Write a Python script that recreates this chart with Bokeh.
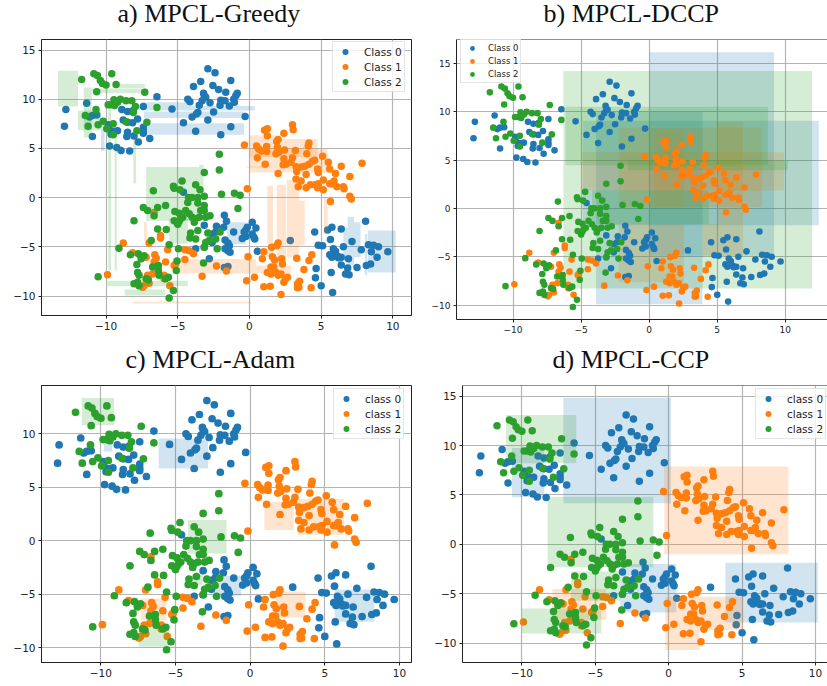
from bokeh.plotting import figure
from bokeh.layouts import column, row
from bokeh.models import FixedTicker, Span, Title
from bokeh.embed import file_html
from bokeh.resources import INLINE

colors = ["#1f77b4", "#ff7f0e", "#2ca02c"]

class0_points = [
(-2.9,13.1),(-2.4,12.7),(-3.4,11.8),(-1.3,11.9),(-3.9,11.3),(-2.55,11.4),(-2.15,11.0),(-1.65,10.7),(-0.85,10.6),(-0.95,10.35),
(-3.2,10.6),(-3.15,10.35),(-3.05,10.2),(-6.45,10.25),(-4.3,10.0),(-4.15,9.75),(-3.3,9.85),(-2.75,9.65),(-3.5,9.4),(-2.0,9.9),
(-1.7,9.85),(-2.05,9.4),(-1.05,9.7),(-1.4,9.3),(-1.1,10.0),(-5.4,9.0),(-2.5,8.7),(-3.6,8.65),(-3.7,8.5),(-4.0,8.2),
(-0.3,8.25),(-2.9,7.9),(-4.6,7.6),(-1.3,7.2),(-3.75,6.75),(-2.0,6.4),
(-12.8,8.95),(-12.9,7.25),(-11.35,9.6),(-11.15,8.2),(-10.95,8.35),(-10.65,8.4),(-10.95,6.2),(-8.9,8.95),(-8.5,8.75),(-8.1,8.85),
(-7.4,9.25),(-7.8,8.0),(-8.8,7.9),(-8.15,7.6),(-8.5,7.65),(-7.4,7.15),(-7.4,6.8),(-7.4,6.55),(-9.2,6.8),(-9.45,6.75),(-9.8,7.0),
(-8.5,6.65),(-8.55,6.2),(-8.05,6.25),(-6.95,6.0),(-7.75,5.65),(-9.75,5.25),(-9.25,5.1),(-8.95,4.8),(-8.35,4.75),(-9.65,6.45),(-9.85,7.4),
(-4.6,0.55),(-1.75,-1.8),(-3.15,-2.8),(-2.3,-2.9),(-1.6,-2.4),(-1.8,-3.0),(-2.35,-3.5),(-2.6,-3.7),(-1.1,-3.5),(0.2,-2.5),
(-0.15,-3.0),(-0.25,-3.3),(-0.37,-3.5),(0.45,-3.1),(-0.5,-4.15),(-0.25,-3.95),(0.2,-3.7),(0.3,-4.0),(0.37,-4.2),(-2.6,-4.55),
(-1.7,-4.3),(-1.5,-4.6),(-1.4,-4.9),(-1.7,-5.2),(-1.5,-5.4),(-1.35,-5.55),(-3.75,-5.2),(-3.15,-5.05),(-2.8,-6.2),(-1.75,-7.1),(-1.5,-7.0),
(0.55,-5.45),(2.85,-4.35),
(4.55,-3.5),(5.45,-3.3),(5.75,-3.0),(6.4,-3.2),(8.1,-2.4),(5.65,-4.25),(4.8,-4.85),(5.1,-4.9),(7.15,-4.45),(6.55,-5.0),(5.85,-5.2),(6.0,-5.45),
(8.3,-4.8),(8.65,-4.85),(9.0,-5.0),(7.8,-5.3),(8.5,-5.5),(9.65,-5.5),(5.6,-5.8),(5.75,-6.05),(6.15,-5.95),(6.4,-6.05),(6.2,-6.1),(6.9,-6.2),
(8.9,-6.05),(6.4,-6.85),(8.15,-6.9),(8.45,-6.75),(7.5,-7.1),(6.85,-7.15),(6.7,-7.75),(6.95,-7.85),(4.65,-7.2),(4.6,-8.15),(5.7,-7.6),(5.0,-8.95),(5.8,-9.65),
]

class1_points = [
(1.05,6.85),(1.25,7.0),(3.0,7.4),(3.05,6.9),(1.25,6.3),(2.4,6.55),(2.0,5.9),(1.9,5.7),(4.15,5.55),(4.1,5.25),(-0.35,5.35),
(0.5,5.25),(0.65,4.95),(0.85,4.75),(1.2,5.2),(1.2,4.7),(1.95,5.1),(2.45,4.85),(3.2,4.8),(1.85,4.45),(2.05,4.6),(0.55,4.05),
(4.0,4.45),(5.1,4.2),(5.5,3.6),(1.1,3.4),(2.4,3.95),(2.55,3.4),(2.35,3.35),(3.0,4.05),(2.9,3.6),(3.25,3.15),(3.6,3.1),(3.3,2.65),
(3.85,3.2),(4.15,3.4),(4.4,3.7),(4.55,3.8),(6.4,3.2),(7.85,3.5),(4.75,2.9),(4.8,2.55),(5.6,2.9),(6.0,2.45),(3.95,2.35),(2.0,2.45),
(7.0,2.15),(3.25,1.9),(3.6,1.7),(3.4,1.1),(5.15,1.8),(5.9,1.7),(5.8,1.4),(5.6,1.4),(4.25,1.3),(3.95,1.0),(4.6,1.3),(4.75,1.0),(4.8,1.4),
(5.15,0.8),(6.1,1.1),(6.55,1.1),(6.6,0.9),(7.0,0.15),(7.1,-0.15),(-0.15,0.9),(5.65,-0.4),
(1.9,-4.9),(1.55,-5.05),(2.0,-4.6),(1.0,-5.5),(0.9,-6.2),(-0.1,-6.0),(1.6,-6.0),(1.75,-6.35),(2.25,-6.2),(2.3,-6.75),(3.3,-6.15),
(4.35,-5.8),(4.15,-6.4),(1.5,-7.05),(1.7,-7.05),(1.25,-7.6),(1.5,-7.75),(1.85,-7.6),(2.0,-7.9),(2.2,-7.75),(3.8,-7.3),(2.65,-8.1),
(2.4,-8.6),(2.5,-8.25),(3.5,-8.5),(3.35,-8.75),(3.45,-9.1),(3.35,-9.15),(0.35,-8.1),(-0.2,-8.45),(1.0,-9.05),(1.45,-9.0),(4.3,-9.15),(2.2,-9.85),
(-6.65,-1.5),(-6.2,-3.85),(-6.2,-4.1),(-7.0,-4.6),(-8.8,-4.6),(-8.15,-5.6),(-7.55,-6.05),(-7.2,-6.05),(-6.6,-5.8),(-6.5,-6.15),(-5.7,-5.3),
(-5.85,-6.55),(-6.65,-6.55),(-4.5,-5.3),(-4.2,-5.4),(-3.9,-5.7),(-4.5,-6.3),(-5.25,-6.9),(-5.15,-6.75),(-2.3,-6.95),(-1.6,-7.45),(-3.3,-8.0),
(-9.9,-7.85),(-7.1,-7.9),(-7.2,-8.25),(-6.75,-7.75),(-6.3,-7.75),(-5.95,-8.25),(-5.95,-7.9),(-7.45,-9.1),(-7.35,-8.95),(-5.55,-8.95),(-7.0,-8.7),(-6.4,-7.05),
]

class2_points = [
(-10.85,12.6),(-10.6,12.4),(-10.4,11.9),(-10.25,11.6),(-10.0,11.45),(-9.6,12.6),(-11.7,12.0),(-9.3,11.5),(-10.65,10.75),(-7.3,10.7),
(-9.45,9.95),(-9.0,10.0),(-8.6,9.85),(-8.2,9.85),(-9.2,9.7),(-9.65,9.45),(-9.85,9.45),(-9.4,9.35),(-7.95,9.25),(-8.1,8.65),(-6.45,9.15),
(-10.7,8.95),(-11.45,8.35),(-11.25,7.25),(-10.55,7.4),(-10.2,7.75),(-8.6,7.7),(-7.15,7.65),(-9.5,7.5),(-9.95,7.0),(-9.5,6.4),(-7.85,6.8),
(-2.1,4.4),(-2.1,2.8),(-3.15,2.55),(-4.7,1.7),(-3.75,1.3),(-5.3,1.15),(-5.25,0.95),(-6.7,0.7),(-4.85,0.8),(-3.45,0.8),(-1.95,0.35),
(-1.05,0.45),(-0.65,0.25),(-4.25,0.0),(-4.0,0.0),(-3.6,0.0),(-3.15,0.15),(-5.85,-0.8),(-6.4,-1.0),(-7.4,-1.0),(-7.1,-1.3),(-4.3,-0.5),
(-3.6,-0.55),(-3.15,-0.8),(-4.45,-1.3),(-4.2,-1.65),(-3.4,-1.3),(-3.15,-1.3),(-0.8,-1.1),(-6.65,-1.85),(-5.2,-1.4),(-4.9,-1.6),(-4.65,-2.0),
(-5.25,-2.35),(-4.9,-2.4),(-4.8,-2.15),(-5.0,-2.7),(-4.0,-2.0),(-3.75,-2.15),(-3.5,-2.0),(-3.05,-2.0),(-2.75,-1.85),(-3.85,-2.5),(-8.05,-2.35),
(-6.4,-3.2),(-5.8,-3.25),(-6.85,-4.35),(-4.1,-3.6),(-3.6,-3.35),(-2.9,-3.6),(-2.05,-3.5),(-4.15,-4.1),(-3.75,-4.2),(-2.35,-4.2),(-2.8,-4.35),
(-3.05,-4.55),(-3.15,-5.05),(-2.25,-5.2),(-5.6,-4.8),(-4.95,-5.2),(-9.1,-5.15),(-8.3,-5.8),(-7.75,-5.7),(-7.35,-5.9),(-7.55,-6.2),(-7.85,-6.8),
(-3.2,-6.65),(-5.05,-6.45),(-5.1,-7.4),(-6.75,-7.05),(-6.35,-6.9),(-6.35,-7.4),(-6.3,-7.9),(-7.8,-7.6),(-7.7,-7.9),(-7.8,-8.6),(-8.05,-8.75),
(-7.7,-8.95),(-7.2,-8.25),(-7.05,-8.35),(-5.65,-8.1),(-5.85,-8.25),(-10.55,-8.05),(-5.3,-9.45),(-5.6,-10.2),
]

# boxes as (left, right, top, bottom) in data units
a_boxes_0 = [(-7.45,0.37,9.3,8.85),(-7.35,-0.35,8.75,8.1),(-7.35,-0.37,7.55,6.4),(-10.35,-10.1,7.5,4.75),(-7.55,-4.3,9.7,9.3),
             (-1.55,-0.25,-2.5,-4.75),(8.25,10.2,-3.35,-7.6),(6.85,7.3,-1.95,-6.9),(7.3,7.75,-2.5,-6.05),(6.55,6.85,-3.0,-6.4),(8.05,8.2,-3.7,-7.9)]
a_boxes_1 = [(0.0,4.75,5.95,4.1),(0.0,5.45,4.95,2.55),(-0.25,1.25,3.2,3.05),(1.25,1.65,1.2,-6.05),(1.9,2.55,1.3,-6.75),(2.6,3.45,1.8,-6.05),
             (3.45,3.85,-0.3,-4.85),(5.2,5.45,0.05,-3.7),(-5.0,2.9,-6.9,-7.7),(-5.25,0.45,-6.25,-6.9),(-8.15,0.1,-10.55,-10.75),(-7.35,-7.15,-2.5,-4.35),(0.0,1.95,6.35,5.95)]
a_boxes_2 = [(-13.35,-11.95,12.9,9.25),(-11.55,-11.0,11.2,6.1),(-11.95,-10.35,8.85,6.85),(-9.2,-7.3,11.55,11.15),(-11.0,-7.1,11.1,10.6),
             (-9.85,-9.65,9.85,-7.4),(-9.4,-9.25,6.4,-7.4),(-8.1,-7.9,6.8,1.45),(-7.2,-3.5,3.1,-2.35),(-3.5,-3.2,3.35,-0.3),(-5.6,-4.3,-2.15,-4.7),
             (-9.9,-4.3,-8.45,-9.0),(-8.7,-5.9,-9.35,-9.95)]

b_boxes_0 = [(0.03,9.18,16.15,-4.9),(-4.87,12.46,9.07,-1.75),(-3.9,3.92,10.0,-9.93)]
b_boxes_1 = [(-4.92,9.9,5.8,1.85),(-2.23,8.3,8.35,0.15),(0.35,2.55,8.2,0.05),(5.07,6.9,8.97,-1.65),(3.92,6.9,-1.65,-4.9),(-2.23,2.55,-1.65,-7.65)]
b_boxes_2 = [(-6.3,11.97,14.2,-8.3),(-6.15,8.72,10.5,4.45),(-1.55,10.2,4.95,3.95),(-4.2,4.38,1.85,-1.65)]

c_boxes_0 = [(-9.79,-9.23,9.36,8.33),(-6.13,-2.83,9.55,6.74),(-2.43,-0.6,-3.28,-5.15),(5.66,8.32,-4.56,-7.58)]
c_boxes_1 = [(0.96,2.92,3.65,1.0),(3.19,6.27,3.9,0.56),(1.72,3.7,-4.74,-7.18),(-7.34,-5.62,-5.4,-7.43)]
c_boxes_2 = [(-11.28,-9.12,13.35,10.8),(-4.17,-1.58,1.93,-1.19),(-3.88,-3.17,-3.1,-4.2),(-7.47,-5.44,-8.11,-9.92)]

d_boxes_0 = [(-7.18,0.16,14.83,4.16),(-10.68,-8.48,9.76,4.76),(3.86,10.16,-1.86,-7.9),(-3.3,0.52,-2.0,-6.9)]
d_boxes_1 = [(-0.3,8.16,7.87,-1.01),(-7.93,-4.25,-4.53,-7.64),(-0.23,2.11,-5.3,-10.7),(2.11,5.07,-5.3,-8.68)]
d_boxes_2 = [(-11.09,-6.3,13.1,8.2),(-8.25,-1.05,4.83,-2.33),(-6.66,-3.3,-2.74,-5.7),(-10.0,-4.59,-6.49,-9.02)]

x_ticks = [-10, -5, 0, 5, 10]
y_ticks_a = [-10, -5, 0, 5, 10, 15]
y_ticks_c = [-10, -5, 0, 5, 10]

SERIES = [class0_points, class1_points, class2_points]


def panel(title, title_x, boxes, labels, legend_xy, x_rng, y_rng, size, borders, dims, y_ticks,
          tick_px, legend_px, legend_geo, boxes_first=False, open_right=False):
    w, h = dims
    bl, br, bt, bb = borders
    p = figure(width=w, height=h, x_range=x_rng, y_range=y_rng, output_backend="svg", toolbar_location=None,
               min_border_left=bl, min_border_right=br, min_border_top=bt, min_border_bottom=bb, title=title)
    p.title.text_font = "Liberation Serif"
    p.title.text_font_size = "26px"
    p.title.text_font_style = "normal"
    p.title.text_color = "#111111"
    p.title.align = "left"
    p.title.offset = title_x
    p.title.standoff = 0
    p.add_layout(Title(text=" ", text_font_size="1px", standoff=9), "above")
    for ax in (p.xaxis[0], p.yaxis[0]):
        ax.major_label_text_font = "DejaVu Sans"
        ax.major_label_text_font_size = tick_px
        ax.major_label_text_color = "#222222"
        ax.major_tick_in = 0
        ax.major_tick_out = 3
        ax.major_tick_line_color = "#222222"
        ax.minor_tick_line_color = None
        ax.axis_line_color = "#222222"
        ax.major_label_standoff = 3
    p.xaxis[0].ticker = FixedTicker(ticks=x_ticks)
    p.yaxis[0].ticker = FixedTicker(ticks=y_ticks)
    p.xgrid.grid_line_color = "#b4b4b4"
    p.ygrid.grid_line_color = "#b4b4b4"
    p.xgrid.grid_line_width = 1.2
    p.ygrid.grid_line_width = 1.2
    if open_right:
        p.outline_line_color = None
        p.add_layout(Span(location=y_rng[1], dimension="width", line_color="#222222", line_width=1))
    else:
        p.outline_line_color = "#222222"
        p.outline_line_alpha = 1

    def draw_boxes(i):
        if boxes[i]:
            l, r, t, b = zip(*boxes[i])
            p.quad(left=list(l), right=list(r), top=list(t), bottom=list(b), fill_color=colors[i], fill_alpha=0.2, line_color=None)

    def draw_points(i):
        xs, ys = zip(*SERIES[i])
        p.scatter(list(xs), list(ys), size=size, fill_color=colors[i], line_color=None, legend_label=labels[i])

    if boxes_first:
        for i in range(3):
            draw_boxes(i)
        for i in range(3):
            draw_points(i)
    else:
        for i in range(3):
            draw_boxes(i)
            draw_points(i)

    lg = p.legend[0]
    lg.location = legend_xy
    lg.margin = 0
    lg.label_text_font = "DejaVu Sans"
    lg.label_text_font_size = legend_px
    lg.label_text_color = "#222222"
    lg.border_line_color = "#cccccc"
    lg.background_fill_alpha = 0.8
    lg.padding, lg.spacing, lg.glyph_width, lg.glyph_height, lg.label_height, lg.label_standoff = legend_geo
    return p


p1 = panel("a) MPCL-Greedy", 76, (a_boxes_0, a_boxes_1, a_boxes_2), ["Class 0", "Class 1", "Class 2"], (291, 223),
           (-14.5, 11.3), (-11.98, 16.07), 7.5, (41, 9, 45, 27), (420, 348), y_ticks_a, "10.5px", "10.5px", (2, 0, 20, 15, 15, 9))
p2 = panel("b) MPCL-DCCP", 87, (b_boxes_0, b_boxes_1, b_boxes_2), ["Class 0", "Class 1", "Class 2"], (4, 236),
           (-14.15, 13.1), (-11.5, 17.47), 6.6, (36, 0, 43, 27), (407, 352), y_ticks_a, "9px", "8.5px", (2, 1, 18, 12, 12, 7),
           boxes_first=True, open_right=True)
p3 = panel("c) MPCL-Adam", 84, (c_boxes_0, c_boxes_1, c_boxes_2), ["class 0", "class 1", "class 2"], (292, 223),
           (-13.98, 10.81), (-11.39, 14.51), 7.7, (41, 9, 43, 24), (420, 344), y_ticks_c, "10.5px", "10.5px", (2, 0, 20, 15, 15, 9))
p4 = panel("d) MPCL-CCP", 90, (d_boxes_0, d_boxes_1, d_boxes_2), ["class 0", "class 1", "class 2"], (293, 223),
           (-14.05, 10.82), (-11.96, 16.08), 7.5, (42, 0, 43, 24), (407, 344), y_ticks_a, "10.5px", "10.5px", (2, 0, 20, 15, 15, 9),
           open_right=True)

page = column(row(p1, p2), row(p3, p4, styles={"margin-top": "-4px"}), styles={"margin-top": "-6px"})
open("out.html", "w").write(file_html(page, INLINE))
